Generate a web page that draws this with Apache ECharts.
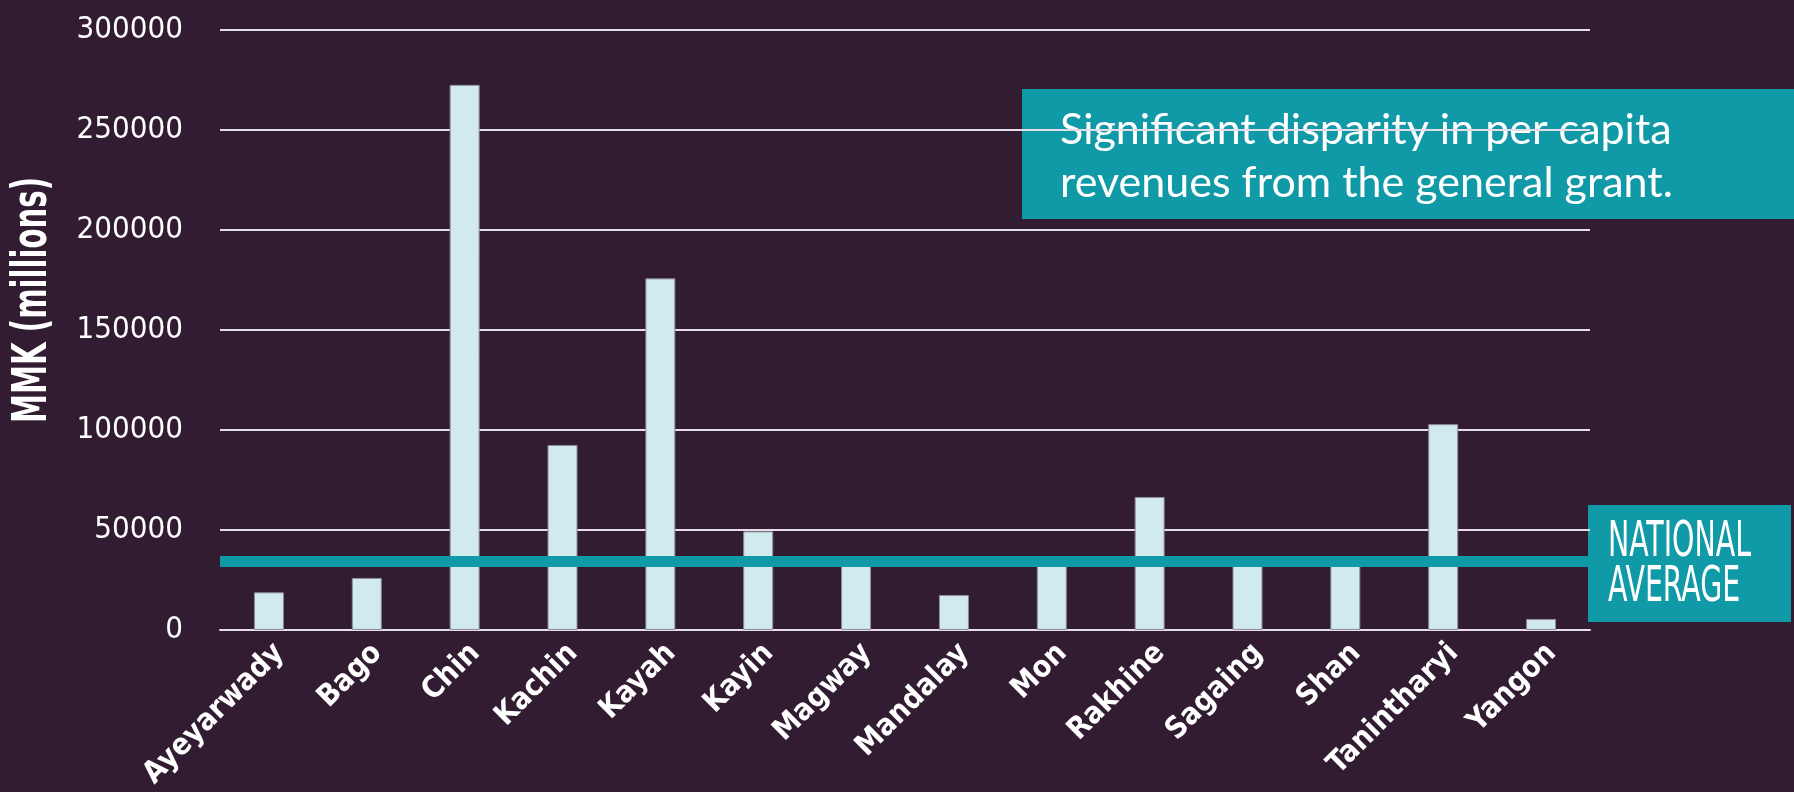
<!DOCTYPE html>
<html>
<head>
<meta charset="utf-8">
<script src="https://cdn.jsdelivr.net/npm/echarts@6/dist/echarts.min.js"></script>
<style>
  html, body { margin: 0; padding: 0; background: #311c31; }
  #main { width: 1794px; height: 792px; }
</style>
</head>
<body>
<div id="main"></div>
<script>
var regions = ['Ayeyarwady', 'Bago', 'Chin', 'Kachin', 'Kayah', 'Kayin', 'Magway',
  'Mandalay', 'Mon', 'Rakhine', 'Sagaing', 'Shan', 'Tanintharyi', 'Yangon'];
var perCapita = [18800, 26000, 272600, 92500, 175800, 49300, 33000,
  17500, 34000, 66500, 35000, 33500, 102900, 5500];
var nationalAverage = 34400;
var yTicks = [0, 50000, 100000, 150000, 200000, 250000, 300000];

var narrow = "'DejaVu Sans Condensed', 'DejaVu Sans', sans-serif";
var teal = '#1099a7';

// squeeze text to a target width (no narrow font installed)
var ctx = document.createElement('canvas').getContext('2d');
function squeeze(font, text, target) {
  ctx.font = font;
  return target / ctx.measureText(text).width;
}
var nameFont = 'bold 48px ' + narrow;
var avgFont = '50px ' + narrow;

var chart = echarts.init(document.getElementById('main'));

var option = {
  backgroundColor: '#311c31',
  animation: false,
  grid: { left: 220, right: 204, top: 30, bottom: 161 },
  xAxis: {
    type: 'category',
    data: regions,
    axisTick: { show: false },
    axisLine: { lineStyle: { color: '#e6dde6', width: 2 } },
    axisLabel: {
      rotate: 45,
      color: '#ffffff',
      fontFamily: narrow,
      fontWeight: 'bold',
      fontSize: 30,
      verticalAlign: 'top',
      margin: 8
    }
  },
  yAxis: {
    type: 'value',
    min: yTicks[0],
    max: yTicks[yTicks.length - 1],
    interval: yTicks[1] - yTicks[0],
    axisLine: { show: false },
    axisTick: { show: false },
    splitLine: { lineStyle: { color: '#e6dde6', width: 2 } },
    axisLabel: {
      color: '#ffffff',
      fontFamily: narrow,
      fontSize: 31,
      margin: 37,
      formatter: function (v) { return String(v); }
    }
  },
  series: [{
    type: 'bar',
    data: perCapita,
    barWidth: 30,
    itemStyle: { color: '#d0eaed', borderColor: '#8d8a99', borderWidth: 1 },
    markLine: {
      silent: true,
      symbol: 'none',
      label: { show: false },
      lineStyle: { color: teal, width: 11, type: 'solid' },
      data: [{ yAxis: nationalAverage }]
    }
  }],
  graphic: [
    {
      type: 'text',
      x: 34, y: 300,
      rotation: Math.PI / 2,
      scaleX: squeeze(nameFont, 'MMK (millions)', 246),
      style: {
        text: 'MMK (millions)',
        fill: '#ffffff',
        font: nameFont,
        align: 'center',
        verticalAlign: 'middle'
      }
    },
    {
      type: 'rect',
      shape: { x: 1022, y: 89, width: 772, height: 130 },
      style: { fill: teal }
    },
    {
      type: 'text',
      x: 1060, y: 104,
      style: {
        text: 'Significant disparity in per capita\nrevenues from the general grant.',
        fill: '#ffffff',
        font: '43px Lato',
        lineHeight: 53
      }
    },
    {
      type: 'rect',
      shape: { x: 1588, y: 505, width: 203, height: 117 },
      style: { fill: teal }
    },
    {
      type: 'text',
      x: 1608, y: 521,
      scaleX: squeeze(avgFont, 'NATIONAL', 143),
      style: {
        text: 'NATIONAL\nAVERAGE',
        fill: '#ffffff',
        font: avgFont,
        lineHeight: 45
      }
    }
  ]
};

chart.setOption(option);
</script>
</body>
</html>
